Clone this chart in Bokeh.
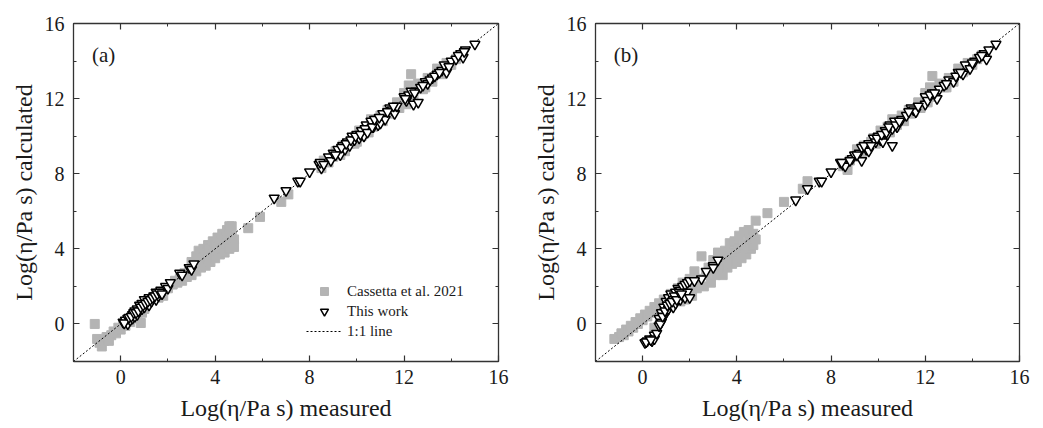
from bokeh.plotting import figure
from bokeh.layouts import row
from bokeh.models import (Range1d, LinearAxis, SingleIntervalTicker, CustomJSTickFormatter,
                          Legend, LegendItem, Label)
from bokeh.embed import file_html
from bokeh.resources import INLINE

FONT = "Liberation Serif"

# ---------------- data ----------------
one_to_one = [-2, 16]

# Panel (a)
cas_a_x = [-1.1, -1.0, -0.9, -0.8, -0.7, -0.6, -0.5, -0.4, -0.3, -0.2, -0.1, 0.0, 0.1, 0.2, 0.3, 0.4, 0.5, 0.6, 0.7, 0.85, 0.9, 1.0,
           1.6, 1.8, 2.0, 2.2, 2.3, 2.4, 2.5, 2.6, 2.7, 2.8, 2.9, 3.0, 3.0, 3.1, 3.2, 3.2, 3.3, 3.3, 3.4, 3.4, 3.5, 3.5, 3.6, 3.6,
           3.7, 3.7, 3.8, 3.8, 3.9, 3.9, 4.0, 4.0, 4.1, 4.1, 4.2, 4.2, 4.3, 4.3, 4.4, 4.4, 4.5, 4.5, 4.6, 4.6, 4.7, 4.7, 4.8, 4.8,
           5.4, 5.9, 6.8, 7.1,
           8.5, 8.6, 8.8, 9.0, 9.1, 9.3, 9.4, 9.5, 9.7, 9.8, 10.0, 10.1, 10.2, 10.4, 10.5, 10.6, 10.8, 11.0, 11.1, 11.3, 11.5,
           11.7, 11.8, 12.0, 12.1, 12.2, 12.3, 12.4, 12.6, 12.8, 13.0, 13.2, 13.4, 13.6, 13.8, 14.0, 14.2, 14.4,
           9.2, 9.9, 10.7, 11.4, 12.9, 13.7]
cas_a_y = [0.0, -0.8, -1.0, -1.2, -0.9, -0.7, -0.9, -0.6, -0.4, -0.5, -0.2, -0.3, 0.0, -0.1, 0.2, 0.1, 0.3, 0.4, 0.3, 0.05, 0.6, 0.8,
           1.4, 1.5, 1.9, 2.1, 2.3, 2.2, 2.4, 2.3, 2.7, 2.5, 2.8, 2.6, 3.3, 3.0, 2.8, 3.6, 3.2, 3.9, 3.0, 3.6, 4.0, 3.3, 3.1, 3.8,
           4.2, 3.5, 3.3, 4.0, 4.4, 3.7, 3.5, 4.2, 4.6, 3.9, 3.7, 4.4, 4.8, 4.0, 4.6, 3.8, 5.0, 4.3, 5.2, 4.0, 4.7, 5.2, 4.5, 4.1,
           5.1, 5.7, 6.5, 6.9,
           8.3, 8.7, 8.6, 8.9, 9.2, 9.0, 9.5, 9.2, 9.6, 9.9, 9.7, 10.3, 10.0, 10.5, 10.2, 10.9, 10.6, 11.1, 10.8, 11.4, 11.3,
           11.8, 11.5, 12.3, 11.7, 12.7, 13.3, 12.1, 12.8, 12.5, 13.1, 12.9, 13.6, 13.3, 13.9, 13.8, 14.1, 14.3,
           9.0, 9.6, 10.5, 11.2, 12.6, 13.5]

tw_a_x = [0.1, 0.2, 0.3, 0.3, 0.4, 0.5, 0.5, 0.6, 0.6, 0.7, 0.7, 0.8, 0.8, 0.9, 0.9, 1.0, 1.0, 1.1, 1.2, 1.2, 1.3, 1.4, 1.5,
          1.5, 1.6, 1.7, 1.8, 1.9, 2.0, 2.1, 2.5, 2.6, 2.9, 3.0, 3.1,
          0.15, 0.35, 0.45, 0.55, 0.65, 0.75, 0.85, 0.95, 1.05, 1.15, 1.25, 1.35, 1.45, 1.55, 1.65, 1.75,
          6.5, 7.0, 7.5, 7.6, 8.0,
          8.4, 8.5, 8.8, 8.9, 9.0, 9.2, 9.3, 9.4, 9.5, 9.6, 9.7, 9.8, 9.9, 10.0, 10.1, 10.2, 10.3, 10.4, 10.5, 10.6, 10.7,
          10.8, 10.9, 11.0, 11.1, 11.2, 11.4, 11.5, 11.6, 11.7, 12.0, 12.1, 12.2, 12.4, 12.5, 12.6, 12.7, 12.9, 13.0, 13.2,
          13.4, 13.6, 13.7, 13.8, 14.0, 14.2, 14.4, 14.5, 14.6, 15.0,
          8.45, 8.6, 9.1, 9.35, 9.55, 9.75, 9.95, 10.15, 10.35, 10.45, 10.65, 10.75, 10.95, 11.3, 11.55, 12.05, 12.3, 12.45,
          12.8, 13.1, 13.3, 13.5, 13.9, 14.3, 14.55]
tw_a_y = [0.1, 0.2, 0.0, 0.3, 0.2, 0.5, 0.3, 0.4, 0.7, 0.5, 0.8, 0.7, 1.0, 0.8, 1.1, 0.9, 1.3, 1.1, 1.0, 1.4, 1.2, 1.5, 1.3,
          1.7, 1.5, 1.8, 1.7, 2.0, 1.9, 2.2, 2.7, 2.6, 3.0, 2.9, 3.2,
          0.05, 0.35, 0.4, 0.6, 0.6, 0.7, 0.9, 1.0, 1.1, 1.2, 1.3, 1.4, 1.5, 1.6, 1.7, 1.6,
          6.7, 7.1, 7.6, 7.6, 8.1,
          8.5, 8.3, 8.9, 8.7, 9.1, 9.3, 9.0, 9.5, 9.3, 9.7, 9.5, 10.0, 9.8, 10.1, 9.9, 10.3, 10.0, 10.6, 10.4, 10.8, 10.5,
          10.9, 10.6, 10.7, 11.2, 10.9, 11.5, 11.4, 11.2, 11.6, 12.1, 11.9, 12.2, 11.7, 12.4, 11.8, 12.6, 12.9, 12.8, 13.1,
          13.3, 13.5, 13.8, 13.4, 14.0, 14.1, 14.4, 14.2, 14.6, 14.9,
          8.6, 8.5, 9.0, 9.4, 9.6, 9.8, 10.0, 10.1, 10.4, 10.2, 10.5, 10.9, 11.0, 11.3, 11.6, 12.0, 12.4, 12.3,
          12.7, 13.0, 13.2, 13.4, 13.7, 14.3, 14.5]

# Panel (b)
cas_b_x = [-1.2, -1.0, -0.9, -0.8, -0.7, -0.6, -0.5, -0.4, -0.3, -0.2, -0.1, 0.0, 0.1, 0.2, 0.3, 0.4, 0.5, 0.5, 0.6, 0.7, 0.8, 0.9, 1.0,
           1.2, 1.4, 1.5, 1.6, 1.7, 1.8, 1.9, 2.0, 2.1, 2.2, 2.3, 2.4, 2.5, 2.6, 2.7, 2.8, 2.9, 3.0, 3.1, 3.2, 3.3, 3.4, 3.5, 3.5,
           3.6, 3.7, 3.7, 3.8, 3.9, 3.9, 4.0, 4.1, 4.1, 4.2, 4.3, 4.3, 4.4, 4.5, 4.5, 4.6, 4.7, 4.7, 4.8,
           4.8, 5.3, 6.0, 6.8, 7.0,
           8.5, 8.7, 8.8, 9.0, 9.1, 9.3, 9.4, 9.5, 9.7, 9.8, 10.0, 10.1, 10.2, 10.4, 10.5, 10.6, 10.8, 11.0, 11.1, 11.3, 11.5,
           11.7, 11.8, 12.0, 12.1, 12.2, 12.3, 12.4, 12.6, 12.8, 13.0, 13.2, 13.4, 13.6, 13.8, 14.0, 14.2, 14.4,
           9.2, 9.9, 10.7, 11.4, 12.9, 13.7]
cas_b_y = [-0.8, -0.7, -0.5, -0.6, -0.3, -0.4, -0.1, -0.2, 0.1, 0.0, 0.3, 0.2, 0.5, 0.4, 0.7, 0.6, 0.9, -0.2, 0.8, 1.1, 1.0, 1.3, 1.2,
           1.6, 1.5, 1.9, 1.2, 2.2, 1.3, 1.8, 2.4, 1.5, 2.8, 1.9, 2.4, 3.6, 2.0, 2.6, 3.0, 2.2, 3.4, 2.6, 3.8, 3.0, 2.6, 3.9, 3.4,
           3.0, 4.3, 3.6, 3.2, 4.4, 3.8, 3.3, 4.7, 4.0, 3.5, 4.9, 4.2, 3.7, 5.0, 4.4, 4.0, 4.8, 4.2, 4.5,
           5.5, 5.9, 6.5, 7.2, 7.6,
           8.4, 8.2, 8.7, 8.9, 9.3, 9.0, 9.5, 9.3, 9.7, 9.9, 9.8, 10.3, 10.0, 10.5, 10.2, 10.9, 10.6, 11.1, 10.8, 11.4, 11.3,
           11.8, 11.5, 12.3, 11.8, 12.6, 13.2, 12.1, 12.8, 12.6, 13.1, 12.9, 13.6, 13.4, 13.9, 13.8, 14.1, 14.3,
           9.0, 9.6, 10.5, 11.2, 12.6, 13.5]

tw_b_x = [0.1, 0.2, 0.3, 0.4, 0.5, 0.5, 0.6,
          0.7, 0.7, 0.8, 0.8, 0.9, 0.9, 1.0, 1.0, 1.1, 1.1, 1.2, 1.2, 1.3, 1.3, 1.4, 1.4, 1.5, 1.5, 1.6, 1.6, 1.7, 1.7, 1.8,
          1.8, 1.9, 1.9, 2.0, 2.0, 2.5, 2.7, 3.0, 3.0, 3.2,
          0.15, 0.35, 0.75, 0.85, 0.95, 1.05, 1.15, 1.25, 1.35, 1.45, 1.55, 1.65, 2.2,
          6.5, 7.0, 7.5, 7.6, 8.0,
          8.4, 8.5, 8.6, 8.9, 9.0, 9.2, 9.3, 9.3, 9.5, 9.6, 9.6, 9.8, 9.9, 10.0, 10.1, 10.2, 10.3, 10.4, 10.5, 10.6, 10.6,
          10.7, 10.8, 11.0, 11.2, 11.4, 11.5, 11.6, 12.0, 12.0, 12.1, 12.3, 12.5, 12.6, 12.8, 13.0, 13.2, 13.4, 13.6, 13.7,
          13.9, 14.1, 14.3, 14.5, 14.6, 14.7, 15.0,
          8.45, 8.8, 9.1, 9.4, 9.7, 9.95, 10.15, 10.35, 10.45, 10.75, 10.9, 11.3, 11.7, 12.2, 12.4, 12.9, 13.3, 13.5, 14.0, 14.4]
tw_b_y = [-1.0, -0.9, -0.8, -0.9, -0.6, -0.8, -0.5,
          -0.1, 0.3, 0.1, 0.6, 0.4, 0.9, 0.6, 1.2, 0.8, 1.4, 1.0, 1.6, 0.9, 1.3, 1.7, 1.1, 1.5, 1.9, 1.3, 1.8, 2.0, 1.5, 1.4,
          2.1, 1.7, 2.2, 1.4, 2.3, 2.4, 2.8, 3.1, 3.0, 3.4,
          -0.95, -0.85, 0.0, 0.4, 0.7, 1.0, 1.1, 1.2, 1.5, 1.3, 1.7, 1.6, 2.3,
          6.6, 7.2, 7.6, 7.6, 8.1,
          8.6, 8.5, 8.4, 8.8, 9.0, 9.1, 8.7, 9.4, 9.3, 9.6, 9.2, 9.9, 9.7, 10.0, 9.8, 9.7, 10.3, 10.1, 10.6, 9.5, 10.4,
          10.8, 10.5, 10.9, 11.1, 11.5, 11.4, 11.3, 12.1, 11.7, 11.9, 12.3, 12.0, 12.5, 12.7, 13.0, 12.9, 13.4, 13.3, 13.8,
          13.6, 14.0, 14.2, 14.4, 14.1, 14.6, 14.9,
          8.6, 8.7, 9.0, 9.5, 9.5, 9.9, 10.1, 10.2, 10.5, 10.6, 10.8, 11.3, 11.6, 12.2, 12.3, 12.8, 13.2, 13.4, 13.9, 14.3]

x_label = "Log(η/Pa s) measured"
y_label = "Log(η/Pa s) calculated"
legend_labels = ["Cassetta et al. 2021", "This work", "1:1 line"]

AXIS_COLOR = "#333333"
TEXT_COLOR = "#1a1a1a"


def style_axis(ax, show_labels):
    ax.ticker = SingleIntervalTicker(interval=4, num_minor_ticks=2)
    ax.axis_line_color = AXIS_COLOR
    ax.axis_line_width = 1.3
    ax.major_tick_line_color = AXIS_COLOR
    ax.minor_tick_line_color = AXIS_COLOR
    ax.major_tick_line_width = 1.2
    ax.minor_tick_line_width = 1.0
    ax.major_tick_in = 6
    ax.major_tick_out = 0
    ax.minor_tick_in = 3
    ax.minor_tick_out = 0
    if show_labels:
        ax.major_label_text_font = FONT
        ax.major_label_text_font_size = "20px"
        ax.major_label_text_color = TEXT_COLOR
        ax.axis_label_text_font = FONT
        ax.axis_label_text_font_size = "24px"
        ax.axis_label_text_font_style = "normal"
        ax.axis_label_text_color = TEXT_COLOR
    else:
        ax.formatter = CustomJSTickFormatter(code="return ''")
        ax.major_label_text_font_size = "1px"
        ax.major_label_standoff = 0


def make_panel(cx, cy, tx, ty, tag, width, left, right, with_legend):
    p = figure(width=width, height=428, x_range=Range1d(-2, 16), y_range=Range1d(-2, 16),
               output_backend="svg", toolbar_location=None,
               min_border_left=left, min_border_right=right, min_border_top=23, min_border_bottom=67)
    p.grid.visible = False
    p.outline_line_color = AXIS_COLOR
    p.background_fill_color = "white"
    p.border_fill_color = "white"

    style_axis(p.xaxis[0], True)
    style_axis(p.yaxis[0], True)
    p.xaxis[0].axis_label = x_label
    p.yaxis[0].axis_label = y_label
    p.xaxis[0].major_label_standoff = 8
    p.yaxis[0].major_label_standoff = 9
    p.xaxis[0].axis_label_standoff = 8
    p.yaxis[0].axis_label_standoff = 5

    top = LinearAxis()
    style_axis(top, False)
    p.add_layout(top, "above")
    rgt = LinearAxis()
    style_axis(rgt, False)
    p.add_layout(rgt, "right")

    r_cas = p.scatter(cx, cy, marker="square", size=9, fill_color="#b4b4b4", line_color="#b4b4b4")
    r_line = p.line(one_to_one, one_to_one, line_color="black", line_width=1, line_dash="2 2")
    r_tw = p.scatter(tx, ty, marker="inverted_triangle", size=10, fill_color="white",
                     line_color="black", line_width=1.5)

    p.add_layout(Label(x=-1.22, y=14.3, text=tag, text_font=FONT, text_font_size="21px",
                       text_baseline="middle", text_color=TEXT_COLOR))

    if with_legend:
        legend = Legend(items=[LegendItem(label=legend_labels[0], renderers=[r_cas]),
                               LegendItem(label=legend_labels[1], renderers=[r_tw]),
                               LegendItem(label=legend_labels[2], renderers=[r_line])],
                        location=(233, 20), orientation="vertical",
                        border_line_color=None, background_fill_alpha=0,
                        label_text_font=FONT, label_text_font_size="15px", label_text_color=TEXT_COLOR,
                        glyph_width=36, glyph_height=20, label_height=20, label_standoff=5,
                        spacing=0, padding=0, margin=0)
        p.add_layout(legend)
    return p


pa = make_panel(cas_a_x, cas_a_y, tw_a_x, tw_a_y, "(a)", 520, 73, 22, True)
pb = make_panel(cas_b_x, cas_b_y, tw_b_x, tw_b_y, "(b)", 523, 75, 24, False)

layout = row(pa, pb)
open("out.html", "w").write(file_html(layout, INLINE))
